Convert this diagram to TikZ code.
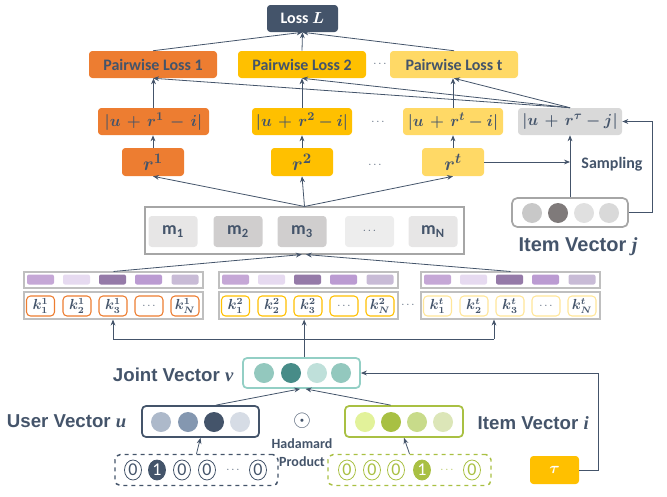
\documentclass[tikz,border=0pt]{standalone}
\usepackage{fontspec}
\usepackage{bm}
\setmainfont{Carlito}
\newfontfamily\arl{Liberation Sans}
\newfontfamily\srf{Liberation Serif}
\usetikzlibrary{arrows.meta,shapes.geometric}
\definecolor{slate}{HTML}{44546A}
\definecolor{orng}{HTML}{ED7D31}
\definecolor{gold}{HTML}{FFC000}
\definecolor{lgold}{HTML}{FFD966}
\definecolor{lyel}{HTML}{FFE699}
\definecolor{grayb}{HTML}{D9D9D9}
\definecolor{memb}{HTML}{A6A6A6}
\definecolor{rowb}{HTML}{BFBFBF}
\definecolor{mA}{HTML}{E7E6E6}
\definecolor{mB}{HTML}{D0CECE}
\definecolor{mC}{HTML}{EDEDED}
\definecolor{puA}{HTML}{C5A7D6}
\definecolor{puB}{HTML}{E6DAF0}
\definecolor{puC}{HTML}{957AA8}
\definecolor{puD}{HTML}{BB9BD2}
\definecolor{puE}{HTML}{C8BBD6}
\definecolor{teal}{HTML}{93CFC5}
\definecolor{tA}{HTML}{93C8BE}
\definecolor{tB}{HTML}{478C88}
\definecolor{tC}{HTML}{BFE0DA}
\definecolor{uA}{HTML}{ADB9CA}
\definecolor{uB}{HTML}{8497B0}
\definecolor{uC}{HTML}{44546A}
\definecolor{uD}{HTML}{D6DCE5}
\definecolor{grn}{HTML}{A9C043}
\definecolor{gA}{HTML}{E2F29A}
\definecolor{gB}{HTML}{A8C043}
\definecolor{gC}{HTML}{C8DB8A}
\definecolor{gD}{HTML}{DCE6B8}
\definecolor{jA}{HTML}{C8C8C8}
\definecolor{jB}{HTML}{7F7A7A}
\definecolor{jC}{HTML}{E0E0E0}
\definecolor{jD}{HTML}{D9D9D9}
\newcommand{\bivar}[1]{{\srf\bfseries\itshape #1}}
\tikzset{
 every node/.style={text=slate},
 rb/.style={rounded corners=2.5pt, inner sep=0pt},
 ln/.style={draw=slate, line width=0.6pt},
 arr/.style={ln, -{Stealth[length=4.5pt,width=3.6pt]}},
 plf/.style={font=\bfseries\fontsize{12}{14}\selectfont},
 mth/.style={font=\fontsize{13}{15}\selectfont},
 rf/.style={font=\fontsize{15}{17}\selectfont},
 kf/.style={font=\fontsize{10.5}{12}\selectfont},
 mf/.style={font=\bfseries\fontsize{13.5}{15}\selectfont},
 lbl/.style={font=\arl\bfseries\fontsize{14}{16}\selectfont},
 dts/.style={font=\fontsize{8}{8}\selectfont},
 dot/.style={circle, inner sep=0pt, minimum size=15pt},
 oh/.style={ellipse, draw=#1, line width=0.6pt, inner sep=0pt, minimum width=12.75pt, minimum height=15pt, font=\fontsize{13.5}{14}\selectfont},
}
\begin{document}
\begin{tikzpicture}[x=0.75pt,y=-0.75pt]
\useasboundingbox (0,0) rectangle (667,496);
% ---- top: losses
\node[rb, fill=slate, minimum width=53.25pt, minimum height=20.25pt, text=white, plf] (loss) at (302.5,18.5) {Loss $\bm{L}$};
\node[rb, fill=orng, minimum width=96pt, minimum height=20.25pt, plf] (pl1) at (153,64.5) {Pairwise Loss 1};
\node[rb, fill=gold, minimum width=96pt, minimum height=20.25pt, plf] (pl2) at (302,64.5) {Pairwise Loss 2};
\node[rb, fill=lgold, minimum width=96pt, minimum height=20.25pt, plf] (plt) at (454,64.5) {Pairwise Loss t};
\node[dts] (dA) at (380,64) {$\cdots$};
% ---- distances
\node[rb, fill=orng, minimum width=83.25pt, minimum height=20.25pt, mth] (d1) at (153.5,121.5) {$\bm{|u\,+\,r^{1}\,-\,i|}$};
\node[rb, fill=gold, minimum width=75pt, minimum height=20.25pt, mth] (d2) at (302,121.5) {$\bm{|u\,+\,r^{2}-i|}$};
\node[rb, fill=lgold, minimum width=75pt, minimum height=20.25pt, mth] (dt) at (453,121.5) {$\bm{|u\,+\,r^{t}-i|}$};
\node[rb, fill=grayb, minimum width=78pt, minimum height=20.25pt, mth] (dj) at (570,121.5) {$\bm{|u\,+\,r^{\tau}-j|}$};
\node[dts] (dB) at (378,122) {$\cdots$};
% ---- relations
\node[rb, fill=orng, minimum width=46.5pt, minimum height=21pt, rf] (r1) at (153,162) {$\bm{r^{1}}$};
\node[rb, fill=gold, minimum width=46.5pt, minimum height=21pt, rf] (r2) at (302,162) {$\bm{r^{2}}$};
\node[rb, fill=lgold, minimum width=46.5pt, minimum height=21pt, rf] (rt) at (453,162) {$\bm{r^{t}}$};
\node[dts] (dC) at (375,165) {$\cdots$};
\node[font=\bfseries\fontsize{12}{14}\selectfont] (smp) at (612,164) {Sampling};
% ---- memory
\node[draw=memb, line width=0.8pt, minimum width=239.25pt, minimum height=35.25pt, inner sep=0pt] (mem) at (304.5,230.5) {};
\node[rb, fill=mA, minimum width=36.75pt, minimum height=23.25pt, mf] (m1) at (173,231.5) {m\textsubscript{1}};
\node[rb, fill=mB, minimum width=36.75pt, minimum height=23.25pt, mf] (m2) at (238,231.5) {m\textsubscript{2}};
\node[rb, fill=mB, minimum width=36.75pt, minimum height=23.25pt, mf] (m3) at (302,231.5) {m\textsubscript{3}};
\node[rb, fill=mC, minimum width=36.75pt, minimum height=23.25pt, dts] (m4) at (369.5,231.5) {$\cdots$};
\node[rb, fill=mA, minimum width=36.75pt, minimum height=23.25pt, mf] (mN) at (433,231.5) {m\textsubscript{N}};
% ---- item vector j
\node[draw=memb, line width=1.3pt, rounded corners=4pt, minimum width=87pt, minimum height=21.75pt, inner sep=0pt] (ivj) at (570,212.5) {};
\foreach \x/\c [count=\n] in {532/jA,558/jB,584/jC,609/jD}
  \node[dot, fill=\c] (jc\n) at (\x,213) {};
\node[font=\arl\bfseries\fontsize{15}{17}\selectfont] (ivjl) at (578,247) {Item Vector \bivar{j}};
% ---- key groups
\foreach \g/\dx/\kc/\gs in {1/0/orng/1,2/195/gold/2,3/397/lyel/t}{
  \node[draw=rowb, line width=0.8pt, minimum width=134.25pt, minimum height=12pt, inner sep=0pt] (pr\g) at ({\dx+113.5},280) {};
  \node[draw=rowb, line width=0.8pt, minimum width=134.25pt, minimum height=20.25pt, inner sep=0pt] (kr\g) at ({\dx+113.5},305.5) {};
  \foreach \cx/\pc [count=\n] in {40.5/puA,76.5/puB,112.5/puC,148.5/puD,185/puE}
    \node[rb, rounded corners=1.5pt, fill=\pc, minimum width=20.25pt, minimum height=7.5pt] (pc\g\n) at ({\dx+\cx},279.5) {};
  \foreach \cx/\kl [count=\n] in {40.5/1,77/2,113/3,185/N}
    \node[rb, rounded corners=3pt, draw=\kc, line width=0.8pt, fill=white, minimum width=21pt, minimum height=15pt, kf] (kc\g\n) at ({\dx+\cx},306) {$\bm{k_{\kl}^{\gs}}$};
  \node[rb, rounded corners=3pt, draw=\kc, line width=0.8pt, fill=white, minimum width=21pt, minimum height=15pt, dts] (kd\g) at ({\dx+149},306) {$\cdots$};
}
\node[dts] (dD) at (408,305) {$\cdots$};
% ---- joint vector
\node[draw=teal, line width=1.3pt, rounded corners=3pt, minimum width=87.75pt, minimum height=22.5pt, inner sep=0pt] (joint) at (301.5,373) {};
\foreach \x/\c [count=\n] in {264/tA,291/tB,317/tC,341/tA}
  \node[dot, fill=\c] (vc\n) at (\x,373) {};
\node[lbl, anchor=east] (jl) at (238,375) {Joint Vector \bivar{v}};
% ---- user / item vectors
\node[draw=slate, line width=1.3pt, rounded corners=3pt, minimum width=87.75pt, minimum height=23.25pt, inner sep=0pt] (user) at (200.5,421.5) {};
\foreach \x/\c [count=\n] in {161/uA,188/uB,214/uC,240/uD}
  \node[dot, fill=\c] (uc\n) at (\x,422) {};
\node[lbl, anchor=east] (ul) at (131,421) {User Vector \bivar{u}};
\node[draw=grn, line width=1.3pt, rounded corners=3pt, minimum width=88.5pt, minimum height=23.25pt, inner sep=0pt] (item) at (404,421.5) {};
\foreach \x/\c [count=\n] in {365/gA,391/gB,417/gC,443/gD}
  \node[dot, fill=\c] (ic\n) at (\x,422) {};
\node[lbl, anchor=west] (il) at (473,423) {Item Vector \bivar{i}};
\node[font=\fontsize{17}{17}\selectfont] (had) at (302,421) {$\odot$};
\node[font=\bfseries\fontsize{10.5}{12}\selectfont] (hadA) at (302,444) {Hadamard};
\node[font=\bfseries\fontsize{10.5}{12}\selectfont] (hadB) at (302,462) {Product};
% ---- one-hot inputs
\node[draw=slate, line width=1.1pt, dashed, rounded corners=4pt, minimum width=122.25pt, minimum height=23.25pt, inner sep=0pt] (uoh) at (196.5,470) {};
\node[oh=slate] (u0a) at (133,470) {0};
\node[oh=slate, fill=slate, text=white] (u1) at (157,470) {1};
\node[oh=slate] (u0b) at (182,470) {0};
\node[oh=slate] (u0c) at (207,470) {0};
\node[dts] (uds) at (233,470) {$\cdots$};
\node[oh=slate] (u0d) at (258,470) {0};
\node[draw=grn, line width=1.1pt, dashed, rounded corners=4pt, minimum width=122.25pt, minimum height=23.25pt, inner sep=0pt] (ioh) at (409.5,470) {};
\node[oh=grn, text=grn] (i0a) at (347,470) {0};
\node[oh=grn, text=grn] (i0b) at (372,470) {0};
\node[oh=grn, text=grn] (i0c) at (396,470) {0};
\node[oh=grn, fill=grn, text=white] (i1) at (422,470) {1};
\node[dts, text=grn] (ids) at (447,470) {$\cdots$};
\node[oh=grn, text=grn] (i0d) at (472,470) {0};
% ---- tau
\node[rb, fill=gold, minimum width=36.75pt, minimum height=21pt, text=white, font=\fontsize{12}{14}\selectfont] (tau) at (554.5,470) {$\bm{\tau}$};
% ================= connectors
\draw[arr] (pl1.north) -- (loss.south);
\draw[arr] (pl2.north) -- (loss.south);
\draw[arr] (plt.north) -- (loss.south);
\draw[arr] (d1.north) -- (d1.north |- pl1.south);
\draw[arr] (d2.north) -- (d2.north |- pl2.south);
\draw[arr] (dt.north) -- (dt.north |- plt.south);
\draw[arr] (dj.north) -- (pl1.south);
\draw[arr] (dj.north) -- (pl2.south);
\draw[arr] (dj.north) -- (plt.south);
\draw[arr] (r1.north) -- (r1.north |- d1.south);
\draw[arr] (r2.north) -- (r2.north |- d2.south);
\draw[arr] (rt.north) -- (rt.north |- dt.south);
\draw[arr] (mem.north) -- (r1.south);
\draw[arr] (mem.north) -- (r2.south);
\draw[arr] (mem.north) -- (rt.south);
\draw[arr] (rt.east) -- (rt.east -| dj.south);
\draw[arr] (ivj.north) -- (dj.south);
\draw[arr] (ivj.east) -- ++(24,0) |- (dj.east);
\draw[arr] (pr1.north) -- ([xshift=-2pt]mem.south);
\draw[arr] (pr3.north) -- ([xshift=1pt]mem.south);
\coordinate (busL) at (113,339);
\coordinate (busR) at (494,339);
\draw[ln] (busL) -- (busR);
\draw[arr] (busL) -- (busL |- kr1.south);
\draw[arr] (busR) -- (busR |- kr3.south);
\draw[arr] ([xshift=2pt]joint.north) -- ([xshift=2pt]joint.north |- kr2.south);
\draw[arr] ([xshift=11.5pt]user.north) -- ([xshift=-1pt]joint.south);
\draw[arr] ([xshift=-10pt]item.north) -- ([xshift=3pt]joint.south);
\draw[arr] (uoh.north) -- (user.south);
\draw[arr] (ioh.north) -- (item.south);
\draw[arr] (tau.east) -- ++(19,0) |- (joint.east);
\end{tikzpicture}
\end{document}
